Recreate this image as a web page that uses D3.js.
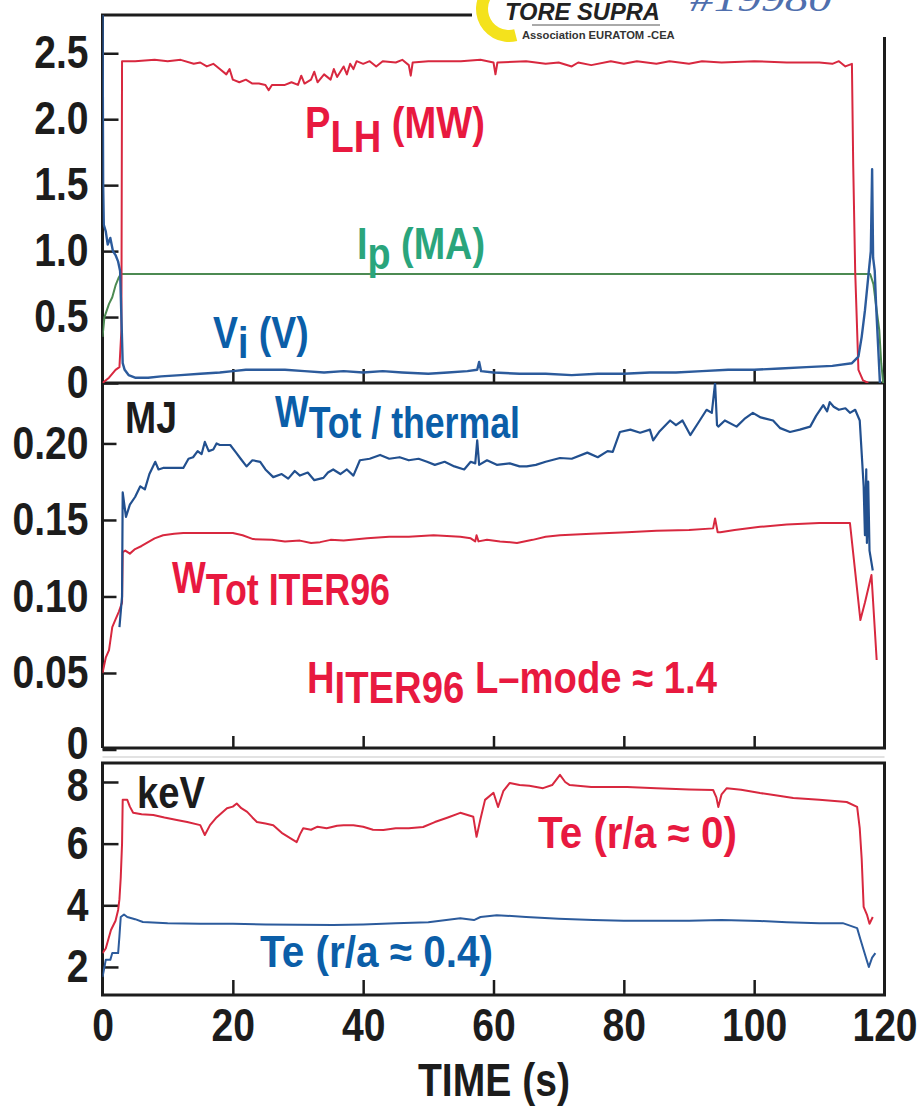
<!DOCTYPE html>
<html><head><meta charset="utf-8">
<script src="https://cdn.jsdelivr.net/npm/d3@7/dist/d3.min.js"></script>
<style>
html,body{margin:0;padding:0;background:#fff;}
svg{display:block;}
</style></head>
<body>
<svg id="chart" width="920" height="1108"></svg>
<script>
// ---------------- DATA ----------------
const xTicks = [0, 20, 40, 60, 80, 100, 120];
const topTicks = [0, 0.5, 1.0, 1.5, 2.0, 2.5];
const midTicks = [0, 0.05, 0.10, 0.15, 0.20];
const botTicks = [2, 4, 6, 8];

// top panel: P_LH (MW)
const pLH = [[0,0],[1,0.04],[2,0.1],[2.6,0.12],[2.9,0.4],[3.0,2.44],[5,2.44],[8,2.45],[10,2.44],[12,2.45],[14,2.42],[15,2.43],[16,2.40],[17,2.42],[18,2.38],[19,2.34],[19.5,2.38],[20,2.30],[21,2.28],[22,2.30],[23,2.27],[24,2.27],[25,2.26],[25.5,2.22],[26,2.26],[28,2.26],[29,2.28],[30,2.26],[30.5,2.33],[31,2.27],[32,2.30],[32.5,2.36],[33,2.28],[34,2.34],[35,2.30],[35.5,2.38],[36,2.32],[37,2.40],[37.5,2.34],[38,2.42],[38.5,2.38],[39,2.44],[40,2.42],[41,2.44],[42,2.40],[43,2.44],[45,2.43],[46,2.45],[47,2.41],[47.3,2.33],[47.6,2.43],[50,2.44],[55,2.44],[58,2.45],[60,2.43],[60.3,2.34],[60.6,2.43],[65,2.44],[68,2.42],[70,2.43],[72,2.40],[73,2.43],[75,2.41],[78,2.44],[80,2.42],[82,2.44],[85,2.42],[87,2.44],[90,2.42],[92,2.44],[95,2.43],[100,2.44],[105,2.43],[110,2.43],[112,2.42],[113,2.44],[114,2.40],[115,2.42],[115.2,1.65],[115.5,0.85],[116,0.1],[116.7,0.02],[117.5,0]];
// top panel: Ip (MA)
const iP = [[0,0.35],[0.3,0.5],[1.0,0.6],[1.5,0.65],[2.0,0.74],[2.5,0.8],[2.8,0.826],[117.8,0.826],[118.3,0.75],[118.8,0.55],[119.2,0.4],[119.5,0.15],[119.8,0.0]];
// top panel: Vi (V)
const vI = [[0,2.9],[0.1,1.5],[0.2,1.2],[0.5,1.15],[0.8,1.05],[1.2,1.1],[1.6,1.0],[2.0,0.97],[2.4,0.92],[2.7,0.85],[2.9,0.5],[3.1,0.15],[3.4,0.1],[4,0.06],[5,0.04],[7,0.04],[9,0.05],[12,0.06],[15,0.07],[18,0.08],[20,0.09],[22,0.1],[25,0.1],[28,0.1],[31,0.09],[34,0.08],[37,0.09],[40,0.08],[43,0.09],[46,0.08],[50,0.07],[53,0.08],[56,0.09],[57.5,0.1],[57.8,0.16],[58.1,0.09],[60,0.08],[64,0.07],[68,0.07],[72,0.06],[76,0.07],[80,0.07],[84,0.08],[88,0.08],[92,0.09],[96,0.1],[100,0.1],[104,0.11],[108,0.12],[112,0.13],[115,0.15],[116,0.2],[116.5,0.35],[117,0.55],[117.5,0.8],[117.9,1.0],[118.1,1.62],[118.25,0.95],[118.5,0.85],[118.7,0.6],[119,0.3],[119.3,0.0]];

// middle panel: W_Tot / thermal (MJ)
const wTherm = [[2.6,0.08],[3.0,0.10],[3.1,0.168],[3.6,0.152],[4.2,0.16],[5,0.165],[5.8,0.172],[6.5,0.17],[7.2,0.18],[8.1,0.188],[8.6,0.183],[9.3,0.184],[11,0.184],[12.4,0.184],[13.2,0.19],[13.9,0.191],[14.6,0.195],[15.2,0.193],[15.7,0.201],[16.3,0.195],[17,0.196],[17.5,0.2],[18,0.199],[19.6,0.199],[20.5,0.194],[21.2,0.19],[22.1,0.185],[23,0.189],[24.2,0.188],[25,0.183],[26.2,0.178],[27.5,0.18],[28.5,0.177],[29.5,0.182],[30.3,0.179],[31.5,0.181],[32.5,0.176],[33.9,0.1775],[34.6,0.181],[35.4,0.183],[36.5,0.18],[37.5,0.183],[38.5,0.179],[39.5,0.189],[41,0.19],[42.6,0.1925],[44,0.19],[45.6,0.191],[47,0.189],[48.5,0.19],[49.8,0.188],[51,0.186],[52.5,0.188],[54,0.185],[55.5,0.183],[56.5,0.188],[57.2,0.187],[57.5,0.202],[57.8,0.186],[59,0.189],[60.5,0.186],[62.5,0.187],[64,0.185],[65.1,0.185],[66.5,0.186],[68,0.188],[70.2,0.1905],[72,0.19],[74.4,0.194],[76,0.191],[77.5,0.195],[78.3,0.1945],[79.4,0.2075],[81,0.209],[82.5,0.207],[84,0.209],[84.5,0.202],[85.5,0.208],[87.1,0.215],[88,0.212],[89,0.215],[90.2,0.2055],[91.5,0.214],[92.7,0.222],[93.5,0.22],[94,0.2395],[94.3,0.212],[94.5,0.211],[95.5,0.215],[97.3,0.211],[98.5,0.216],[99.8,0.22],[101,0.217],[102.9,0.215],[104,0.21],[105.5,0.2075],[107,0.209],[108.6,0.211],[109.5,0.218],[110.6,0.225],[111.2,0.221],[111.6,0.227],[112.2,0.224],[113,0.222],[114,0.223],[114.7,0.22],[115.5,0.222],[116.2,0.215],[116.8,0.172],[117.0,0.14],[117.2,0.183],[117.3,0.135],[117.5,0.175],[117.7,0.13],[118.2,0.117]];
// middle panel: W_Tot ITER96 (MJ)
const wIter = [[0,0.05],[0.5,0.06],[1,0.065],[1.5,0.08],[2,0.085],[2.5,0.09],[3.0,0.096],[3.1,0.129],[3.5,0.13],[4.2,0.128],[5,0.131],[6,0.133],[6.8,0.135],[8,0.138],[9.3,0.14],[11,0.141],[12.4,0.1415],[16,0.1415],[20,0.1415],[21.5,0.14],[23.1,0.1375],[26,0.137],[28,0.136],[30.3,0.1365],[32,0.135],[33.4,0.1355],[35,0.137],[37,0.1365],[40.6,0.138],[44,0.139],[47,0.139],[50.8,0.14],[54.9,0.139],[56.5,0.138],[57.2,0.136],[57.4,0.14],[57.7,0.136],[59,0.137],[61,0.136],[63.6,0.135],[66,0.137],[68,0.139],[70.2,0.14],[75,0.141],[80.5,0.142],[85,0.143],[90,0.1435],[93.7,0.1445],[94,0.151],[94.4,0.142],[94.8,0.142],[97,0.1435],[100.9,0.1455],[105,0.147],[110,0.148],[114.7,0.148],[116.3,0.0846],[117,0.096],[118,0.114],[118.8,0.0585]];

// bottom panel: Te (r/a ~ 0) keV
const te0 = [[0,2.45],[0.5,2.6],[1.3,3.2],[2.0,3.5],[2.4,3.85],[2.6,4.2],[2.8,4.9],[3.0,6.0],[3.1,7.42],[3.8,7.42],[4.2,7.2],[4.7,7.0],[6,6.95],[7.8,6.93],[9.5,6.85],[11.4,6.77],[13,6.7],[15,6.6],[15.7,6.28],[16.5,6.6],[17.5,6.85],[19.1,7.15],[20,7.2],[20.6,7.3],[21.3,7.15],[22.2,7.03],[23,6.85],[23.7,6.7],[25,6.65],[26.2,6.6],[27.5,6.35],[28.8,6.18],[29.8,6.05],[30.3,6.3],[30.8,6.5],[32,6.45],[33,6.55],[34.4,6.5],[36,6.58],[37,6.6],[38.5,6.6],[40,6.55],[41.5,6.45],[43.1,6.44],[45,6.5],[47,6.5],[49.2,6.54],[51,6.7],[53,6.85],[54.9,7.0],[56.9,6.87],[57.4,6.22],[58,6.8],[58.7,7.42],[60,7.65],[60.7,7.19],[61.5,7.7],[62.5,7.97],[64,7.9],[65.5,7.88],[67.6,7.8],[69,7.9],[70.2,8.23],[71,8.0],[71.7,7.9],[75,7.84],[80.5,7.84],[85,7.8],[90,7.76],[93.7,7.74],[94.2,7.5],[94.5,7.19],[95,7.6],[95.8,7.8],[98,7.75],[100.9,7.64],[103,7.58],[106,7.48],[110,7.42],[114.2,7.35],[115.8,7.19],[116.2,6.5],[116.5,5.5],[116.8,3.95],[117.3,3.7],[117.7,3.4],[118.2,3.62]];
// bottom panel: Te (r/a ~ 0.4) keV
const te04 = [[0,1.67],[0.3,2.0],[0.5,2.23],[1.2,2.23],[1.5,2.45],[2.4,2.45],[2.6,3.0],[2.8,3.62],[3.3,3.7],[3.8,3.62],[5,3.55],[6.2,3.46],[10,3.42],[15,3.4],[20,3.4],[25,3.38],[30,3.37],[35.4,3.36],[40,3.38],[45,3.42],[50,3.45],[54.9,3.58],[57,3.52],[58,3.62],[60.5,3.68],[65,3.62],[70,3.56],[75.3,3.52],[80,3.5],[90,3.5],[95,3.52],[100.9,3.49],[105,3.45],[110,3.42],[113.6,3.42],[115.8,3.26],[116.3,2.9],[116.8,2.55],[117.3,2.2],[117.6,2.0],[118.1,2.3],[118.6,2.45]];

// ---------------- DRAW ----------------
const svg = d3.select("#chart");
const F = "'Liberation Sans',Arial,sans-serif";
const RED = "#e8193f", BLUE = "#0b5ea8", GREEN = "#2aa57c", INK = "#1c1c1c";
const SQ = 0.85; // horizontal condensing of the bold tick font

const x = d3.scaleLinear().domain([0, 120]).range([102.5, 884.5]);
const yTop = d3.scaleLinear().domain([0, 2.79]).range([383, 15]);
const yMid = d3.scaleLinear().domain([0, 0.2395]).range([749.5, 383]);
const yBot = d3.scaleLinear().domain([1.09, 8.616]).range([995, 763]);

const panels = [
  {id:"top", top:15, bottom:383},
  {id:"mid", top:383, bottom:748},
  {id:"bot", top:763, bottom:995}
];
const defs = svg.append("defs");
panels.forEach(p => {
  defs.append("clipPath").attr("id", "clip-" + p.id)
    .append("rect").attr("x", x(0)).attr("y", p.top)
    .attr("width", x(120) - x(0)).attr("height", p.bottom - p.top);
});

function drawLine(data, y, clip, color, w) {
  svg.append("path")
    .datum(data)
    .attr("clip-path", "url(#clip-" + clip + ")")
    .attr("fill", "none")
    .attr("stroke", color)
    .attr("stroke-width", w || 2)
    .attr("stroke-linejoin", "round")
    .attr("d", d3.line().x(d => x(d[0])).y(d => y(d[1])));
}

// faint separator line between middle and bottom panels
svg.append("line").attr("x1", x(0)).attr("x2", x(120)).attr("y1", 757).attr("y2", 757)
  .attr("stroke", "#d8d8d8").attr("stroke-width", 1.5);

// axes
function styleAxis(g) {
  g.select(".domain").remove();
  g.selectAll(".tick line").attr("stroke", INK).attr("stroke-width", 2.5);
  g.selectAll(".tick text").attr("fill", INK).attr("font-family", F)
    .attr("font-weight", "bold").attr("font-size", 46)
    .each(function () {
      const t = d3.select(this);
      const xx = +t.attr("x") || 0;
      t.attr("x", xx / SQ).attr("transform", `scale(${SQ},1)`);
    });
}
const f0 = (fmt) => (d => d === 0 ? "0" : d3.format(fmt)(d));

svg.append("g").attr("transform", `translate(${x(0)},0)`)
  .call(d3.axisLeft(yTop).tickValues(topTicks).tickFormat(f0(".1f")).tickSize(-16).tickPadding(14))
  .call(styleAxis);
svg.append("g").attr("transform", `translate(${x(0)},0)`)
  .call(d3.axisLeft(yMid).tickValues(midTicks).tickFormat(f0(".2f")).tickSize(-14).tickPadding(14))
  .call(styleAxis)
  .call(g => g.selectAll(".tick").filter(d => d === 0).select("text").attr("dy", "0.2em"));
svg.append("g").attr("transform", `translate(${x(0)},0)`)
  .call(d3.axisLeft(yBot).tickValues(botTicks).tickFormat(d3.format("d")).tickSize(-16).tickPadding(14))
  .call(styleAxis)
  .call(g => g.selectAll(".tick").filter(d => d === 8).select("text").attr("dy", "0.4em"));

// x ticks on bottom edges of each panel
svg.append("g").attr("transform", `translate(0,383)`)
  .call(d3.axisBottom(x).tickValues(xTicks.slice(1, -1)).tickFormat("").tickSize(-14))
  .call(styleAxis);
svg.append("g").attr("transform", `translate(0,748)`)
  .call(d3.axisBottom(x).tickValues(xTicks.slice(1, -1)).tickFormat("").tickSize(-12))
  .call(styleAxis);
svg.append("g").attr("transform", `translate(0,995)`)
  .call(d3.axisBottom(x).tickValues(xTicks).tickFormat(d3.format("d")).tickSize(-15).tickPadding(13))
  .call(styleAxis)
  .call(g => g.selectAll(".tick").filter(d => d === 0 || d === 120).select("line").remove());

// frames
const frame = svg.append("g").attr("fill", "none").attr("stroke", INK).attr("stroke-width", 3);
frame.append("path").attr("d",
  `M${x(0)},748 L${x(0)},15 L${x(120)},15 L${x(120)},748 L${x(0)},748`);
frame.append("line").attr("x1", x(0)).attr("x2", x(120)).attr("y1", 383).attr("y2", 383);
frame.append("rect").attr("x", x(0)).attr("y", 763).attr("width", x(120) - x(0)).attr("height", 995 - 763);

// lines
drawLine(iP, yTop, "top", "#4c8a52", 2);
drawLine(pLH, yTop, "top", "#d8283f", 2);
drawLine(vI, yTop, "top", "#2c5b9c", 2.4);
drawLine(wIter, yMid, "mid", "#d8283f", 2);
drawLine(wTherm, yMid, "mid", "#22508f", 2.2);
drawLine(te0, yBot, "bot", "#d8283f", 2);
drawLine(te04, yBot, "bot", "#2c5b9c", 2);

// logo area (covers the frame top right)
svg.append("rect").attr("x", 472).attr("y", 0).attr("width", 448).attr("height", 37).attr("fill", "#fff");
svg.append("path")
  .attr("transform", "translate(509,9)")
  .attr("d", d3.arc().innerRadius(21).outerRadius(33).startAngle(Math.PI * 0.92).endAngle(Math.PI * 1.88)())
  .attr("fill", "#f4e21c");

// condense a text horizontally so that it spans `width` px from its x
function fitWidth(t, xp, width) {
  const nat = t.node().getComputedTextLength();
  const sx = width / nat;
  t.attr("transform", `translate(${xp},0) scale(${sx},1) translate(${-xp},0)`);
  return t;
}

fitWidth(svg.append("text").attr("x", 505).attr("y", 20)
  .attr("font-family", F).attr("font-weight", "bold").attr("font-style", "italic")
  .attr("font-size", 23).attr("fill", "#222").text("TORE SUPRA"), 505, 155);
svg.append("line").attr("x1", 532).attr("x2", 660).attr("y1", 25).attr("y2", 25).attr("stroke", "#555").attr("stroke-width", 1);
fitWidth(svg.append("text").attr("x", 522).attr("y", 39)
  .attr("font-family", F).attr("font-weight", "bold")
  .attr("font-size", 10).attr("fill", "#333").text("Association EURATOM -CEA"), 522, 153);
fitWidth(svg.append("text").attr("x", 690).attr("y", 11)
  .attr("font-family", "'Liberation Serif','Times New Roman',serif").attr("font-style", "italic")
  .attr("font-size", 36).attr("fill", "#4f6fae").text("#19980"), 690, 142);

// labels (width = span measured on the reference)
function label(xp, yp, color, parts, width, size) {
  const t = svg.append("text").attr("x", xp).attr("y", yp)
    .attr("font-family", F).attr("font-weight", "bold").attr("font-size", size || 44).attr("fill", color);
  let cur = 0;
  parts.forEach(p => {
    const shift = p.sub || 0;
    t.append("tspan").attr("dy", shift - cur).text(p.t);
    cur = shift;
  });
  return fitWidth(t, xp, width);
}
label(305, 138, RED, [{t:"P"},{t:"LH", sub:14},{t:" (MW)"}], 180);
label(357, 259, GREEN, [{t:"I"},{t:"p", sub:10},{t:" (MA)"}], 128);
label(213, 348, BLUE, [{t:"V"},{t:"i", sub:10},{t:" (V)"}], 95);
label(125, 433, INK, [{t:"MJ"}], 52);
label(275, 427, BLUE, [{t:"W"},{t:"Tot / thermal", sub:11}], 245);
label(172, 593, RED, [{t:"W"},{t:"Tot ITER96", sub:12}], 218);
label(307, 693, RED, [{t:"H"},{t:"ITER96", sub:10},{t:" L\u2013mode \u2248 1.4"}], 410);
label(137, 808, INK, [{t:"keV"}], 68);
label(538, 848, RED, [{t:"Te (r/a \u2248 0)"}], 199);
label(260, 967, BLUE, [{t:"Te (r/a \u2248 0.4)"}], 233);

fitWidth(svg.append("text").attr("x", 418).attr("y", 1096)
  .attr("font-family", F).attr("font-weight", "bold").attr("font-size", 46).attr("fill", INK)
  .text("TIME (s)"), 418, 152);
</script>
</body></html>
